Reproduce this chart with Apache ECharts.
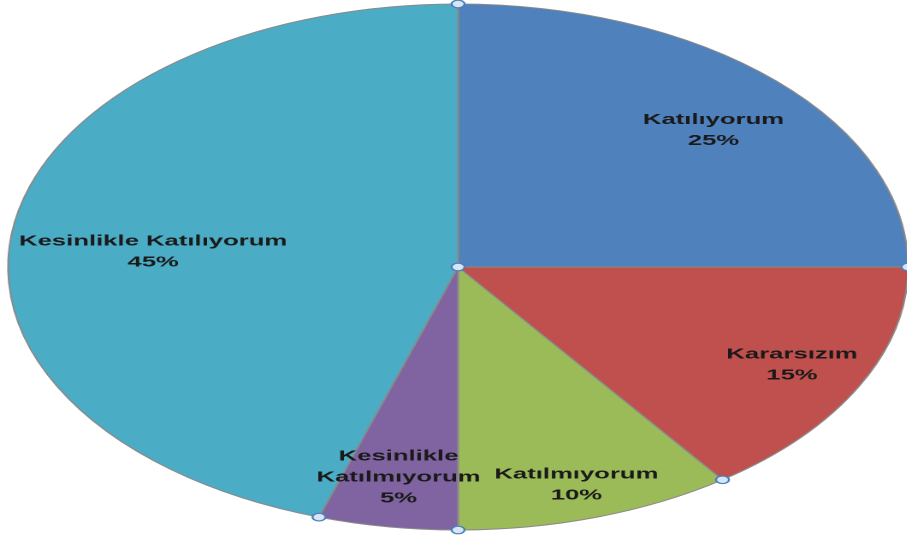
<!DOCTYPE html>
<html>
<head>
<meta charset="utf-8">
<script src="https://cdn.jsdelivr.net/npm/echarts@6/dist/echarts.min.js"></script>
<style>
    html, body { margin: 0; padding: 0; background: #fff; overflow: hidden; }
    /* the original chart is a circle pie stretched sideways, so stretch the whole canvas */
    #chart { width: 530px; height: 541px; transform: scaleX(1.711); transform-origin: 0 0; }
</style>
</head>
<body>
<div id="chart"></div>
<script>
var categories = ['Katılıyorum', 'Kararsızım', 'Katılmıyorum', 'Kesinlikle Katılmıyorum', 'Kesinlikle Katılıyorum'];
var values = [25, 15, 10, 5, 45];
var colors = ['#4F81BD', '#C0504D', '#9BBB59', '#8064A2', '#4BACC6'];
// where each label sits: share of the radius, and angle clockwise from the top
var labelRadius = [0.77, 0.83, 0.87, 0.81, 0.68];
var labelAngle = [47.5, 116.6, 162.4, 189.4, 274.8];

var cx = 267.7, cy = 267, radius = 263;

var chart = echarts.init(document.getElementById('chart'), null, {devicePixelRatio: 2});

var data = categories.map(function(name, i){
    return {
        name: name,
        value: values[i],
        itemStyle: {color: colors[i]}
    };
});

function polar(a, r){
    var t = a * Math.PI / 180;
    return [cx + Math.sin(t) * r, cy - Math.cos(t) * r];
}

// selection handles at the centre, the top and the slice edges (as in the Excel screenshot)
var total = values.reduce(function(s, v){ return s + v; }, 0);
var handles = [[cx, cy]];
var acc = 0;
values.forEach(function(v){
    handles.push(polar(acc / total * 360, radius));
    acc += v;
});
var graphic = handles.map(function(pt){
    return {
        type: 'circle',
        shape: {cx: pt[0], cy: pt[1], r: 3.8},
        style: {fill: '#d6e6f4', stroke: '#4a7ebb', lineWidth: 1.2},
        z: 100
    };
});

chart.setOption({
    animation: false,
    graphic: graphic,
    series: [{
        type: 'pie',
        center: [cx, cy],
        radius: radius,
        startAngle: 90,
        clockwise: true,
        avoidLabelOverlap: false,
        data: data,
        itemStyle: {borderColor: '#8a8a8a', borderWidth: 1},
        label: {
            position: 'inside',
            color: '#1a1a1a',
            fontFamily: 'Liberation Sans',
            fontWeight: 'bold',
            fontSize: 15,
            lineHeight: 21,
            align: 'center',
            formatter: function(p){
                var name = p.dataIndex === 3 ? p.name.replace(' ', '\n') : p.name;
                return name + '\n' + p.value + '%';
            }
        },
        labelLine: {show: false},
        labelLayout: function(p){
            var pt = polar(labelAngle[p.dataIndex], labelRadius[p.dataIndex] * radius);
            return {x: pt[0], y: pt[1], align: 'center', verticalAlign: 'middle'};
        }
    }]
});
</script>
</body>
</html>
